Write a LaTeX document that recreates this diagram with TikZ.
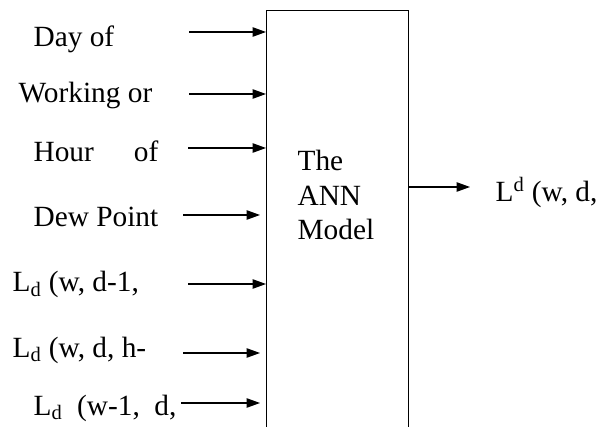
\documentclass[tikz,border=0pt]{standalone}
\usepackage{fontspec}
\newfontfamily\tnr[Extension=.ttf, UprightFont=*-Regular]{LiberationSerif}
\usetikzlibrary{
    positioning,
    arrows.meta
}
\tikzset{
    >={Triangle[length=10pt,width=7pt]},
    inlabel/.style={
        anchor=base west,
        inner sep=0pt,
        font=\tnr\fontsize{22}{26}\selectfont
    }
}

\begin{document}
\begin{tikzpicture}[
    x=0.75pt,
    y=-0.75pt,
    line width=0.9pt
]
    \useasboundingbox (0,0) rectangle (599,427);

    % Modelo
    \node[draw, line width=1.1pt, anchor=north west, inner sep=0pt,
          minimum width=106.5pt, minimum height=340pt] (ann) at (266,10) {};
    \node[inlabel, align=left] (mdl) at (297,240) {The\\ANN\\Model};

    % Entradas
    \node[inlabel] (d1) at (33,47)  {Day of};
    \node[inlabel] (d2) at (18,103) {Working or};
    \node[inlabel] (d3) at (33,162) {Hour\hskip 30pt of};
    \node[inlabel] (d4) at (33,227) {Dew Point};
    \node[inlabel] (d5) at (12,292) {L\textsubscript{d} (w, d-1,};
    \node[inlabel] (d6) at (12,357) {L\textsubscript{d} (w, d, h-};
    \node[inlabel] (d7) at (33,415) {L\textsubscript{d}\ \ (w-1,\ \ d,};

    % Salida
    \node[inlabel] (out) at (495,202) {L\textsuperscript{d} (w, d,};

    % Extremos de las flechas
    \coordinate (a1) at (189,32);  \coordinate (b1) at (266,32);
    \coordinate (a2) at (189,94);  \coordinate (b2) at (266,94);
    \coordinate (a3) at (188,148); \coordinate (b3) at (266,148);
    \coordinate (a4) at (183,215); \coordinate (b4) at (260,215);
    \coordinate (a5) at (188,284); \coordinate (b5) at (266,284);
    \coordinate (a6) at (183,353); \coordinate (b6) at (260,353);
    \coordinate (a7) at (181,403); \coordinate (b7) at (260,403);
    \coordinate (c1) at (ann.east |- 0,187);
    \coordinate (c2) at (470,187);

    % Flechas
    \path[->]
        (a1) edge (b1)
        (a2) edge (b2)
        (a3) edge (b3)
        (a4) edge (b4)
        (a5) edge (b5)
        (a6) edge (b6)
        (a7) edge (b7)
        (c1) edge (c2);

\end{tikzpicture}
\end{document}
